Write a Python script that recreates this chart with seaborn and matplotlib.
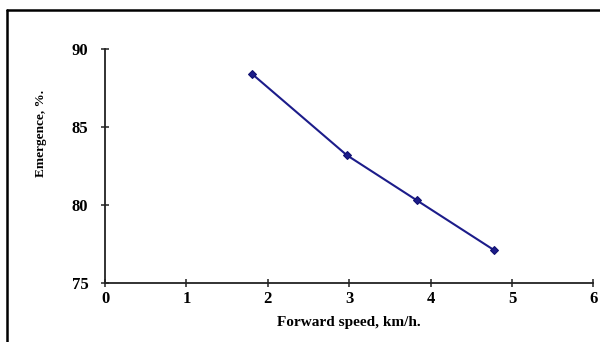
import matplotlib
matplotlib.use("Agg")
import matplotlib.pyplot as plt
import seaborn as sns
import pandas as pd
from matplotlib.lines import Line2D

speed = [1.81, 2.97, 3.83, 4.78]
emergence = [88.4, 83.2, 80.3, 77.1]
x_ticks = [0, 1, 2, 3, 4, 5, 6]
y_ticks = [75, 80, 85, 90]

sns.set_theme(style="white")
plt.rcParams['font.family'] = ['Liberation Serif', 'DejaVu Serif']

df = pd.DataFrame({"speed": speed, "emergence": emergence})

fig = plt.figure(figsize=(6.0, 3.42), dpi=100)
ax = fig.add_axes([0.175, 0.173, 0.814, 0.683])

sns.lineplot(data=df, x="speed", y="emergence", ax=ax, color="#1c1c8a",
             marker="D", markersize=4.5, markeredgecolor="#10106e",
             linewidth=1.5)

ax.set_xlim(0, 6)
ax.set_ylim(75, 90)
ax.set_xticks(x_ticks)
ax.set_yticks(y_ticks)
ax.set_xticklabels([str(v) for v in x_ticks], fontsize=12, fontweight="bold")
ax.set_yticklabels([str(v) for v in y_ticks], fontsize=12, fontweight="bold")
ax.set_xlabel("Forward speed, km/h.", fontsize=11, fontweight="bold", labelpad=6,
              color="black")
ax.set_ylabel("Emergence, %.", fontsize=9.5, fontweight="bold", color="black")
ax.yaxis.set_label_coords(-0.118, 0.64)

for s in ["top", "right"]:
    ax.spines[s].set_visible(False)
for s in ["left", "bottom"]:
    ax.spines[s].set_color("#222222")
    ax.spines[s].set_linewidth(1.3)
ax.tick_params(axis="both", direction="inout", length=6, width=1.1, color="#222222",
               labelcolor="black", pad=3, bottom=True, left=True)
ax.tick_params(axis="y", pad=9)
ax.grid(False)

# outer frame (top and left edges)
fig.add_artist(Line2D([0.011, 1.0], [0.971, 0.971], transform=fig.transFigure,
                      color="black", linewidth=1.8))
fig.add_artist(Line2D([0.011, 0.011], [0.0, 0.971], transform=fig.transFigure,
                      color="black", linewidth=1.8))

fig.savefig("out.png", dpi=100)
